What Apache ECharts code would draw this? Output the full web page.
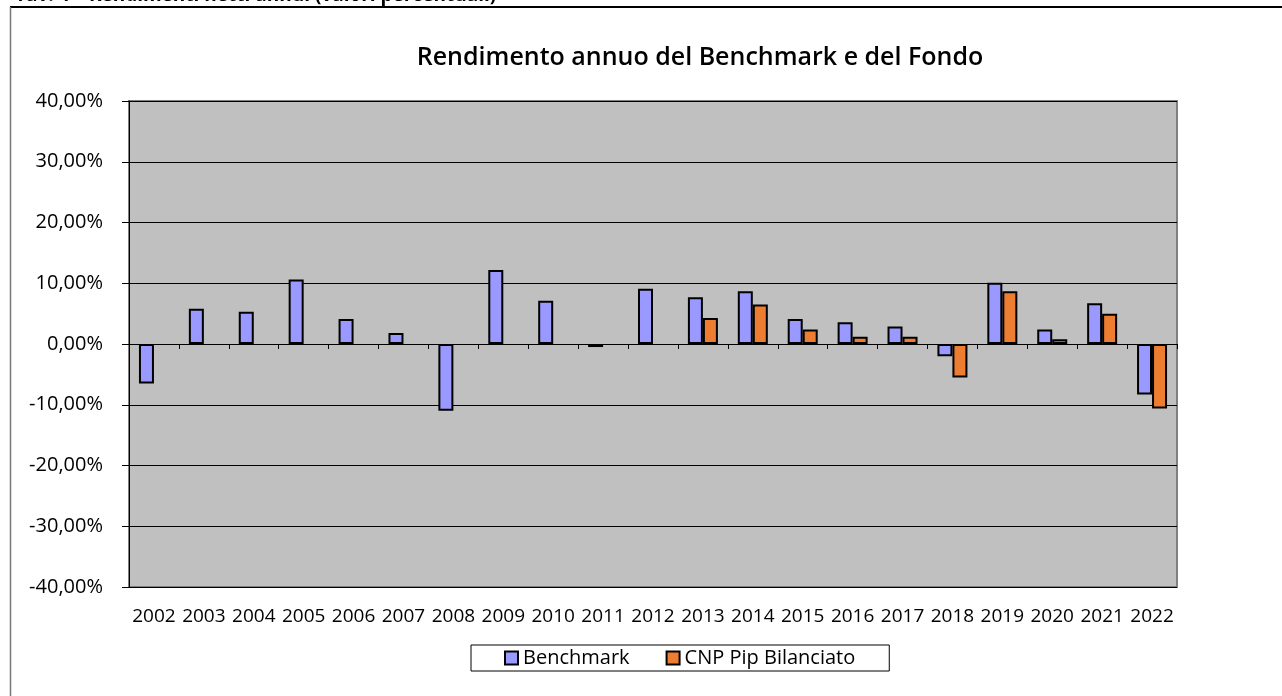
<!DOCTYPE html>
<html>
<head>
<meta charset="utf-8">
<script src="https://cdn.jsdelivr.net/npm/echarts@6/dist/echarts.min.js"></script>
<style>
html,body{margin:0;padding:0;background:#fff;}
#chart{width:1282px;height:696px;}
</style>
</head>
<body>
<div id="chart"></div>
<script>
const years = ['2002','2003','2004','2005','2006','2007','2008','2009','2010','2011','2012','2013','2014','2015','2016','2017','2018','2019','2020','2021','2022'];
const benchmark = [-6.5, 5.8, 5.3, 10.6, 4.1, 1.8, -11.0, 12.2, 7.1, -0.5, 9.1, 7.7, 8.7, 4.1, 3.6, 2.9, -2.0, 10.1, 2.4, 6.7, -8.3];
const fondo = [null, null, null, null, null, null, null, null, null, null, null, 4.3, 6.5, 2.4, 1.2, 1.2, -5.5, 8.7, 0.8, 5.0, -10.6];
const seriesNames = ['Benchmark', 'CNP Pip Bilanciato'];
const chartTitle = 'Rendimento annuo del Benchmark e del Fondo';
const headerText = 'Tav. 4 \u2013 Rendimenti netti annui (valori percentuali)';

const FONT = 'Open Sans';
const chart = echarts.init(document.getElementById('chart'), null, {renderer: 'canvas'});
const fmt = v => v.toFixed(2).replace('.', ',') + '%';

chart.setOption({
  backgroundColor: '#ffffff',
  animation: false,
  textStyle: {fontFamily: FONT, color: '#000'},
  title: {
    text: chartTitle,
    left: 695, top: 40, textAlign: 'center',
    textStyle: {fontFamily: FONT, fontSize: 25, fontWeight: 600, color: '#000'}
  },
  graphic: [
    {type: 'text', left: 15, top: -14, style: {text: headerText, font: 'bold 19px "Open Sans"', fill: '#000'}},
    {type: 'line', shape: {x1: 10, y1: 7, x2: 1282, y2: 7}, style: {stroke: '#000', lineWidth: 2}},
    {type: 'line', shape: {x1: 10.5, y1: 7, x2: 10.5, y2: 696}, style: {stroke: '#777', lineWidth: 1.5}}
  ],
  legend: {
    data: seriesNames,
    left: 471, top: 645,
    backgroundColor: '#fff',
    borderColor: '#000', borderWidth: 1,
    padding: [3, 34, 3, 33],
    itemGap: 36,
    itemWidth: 13, itemHeight: 13,
    icon: 'rect',
    textStyle: {fontFamily: FONT, fontSize: 20, color: '#000'}
  },
  grid: {
    left: 129, right: 105, top: 101, bottom: 109,
    show: true, backgroundColor: '#C0C0C0',
    borderColor: '#808080', borderWidth: 2
  },
  xAxis: [
    {
      type: 'category', data: years,
      axisLine: {onZero: true, lineStyle: {color: '#000', width: 1}},
      axisTick: {show: true, length: 5, lineStyle: {color: '#000'}},
      axisLabel: {show: false},
      splitLine: {show: false}
    },
    {
      type: 'category', data: years, position: 'bottom',
      axisLine: {show: false, onZero: false},
      axisTick: {show: false},
      axisLabel: {show: true, margin: 20, fontFamily: FONT, fontSize: 19, color: '#000', interval: 0},
      splitLine: {show: false}
    }
  ],
  yAxis: {
    type: 'value', min: -40, max: 40, interval: 10,
    axisLine: {show: true, lineStyle: {color: '#000', width: 1}},
    axisTick: {show: true, length: 7, lineStyle: {color: '#000'}},
    axisLabel: {formatter: fmt, fontFamily: FONT, fontSize: 20, color: '#000', margin: 26},
    splitLine: {show: true, lineStyle: {color: '#000', width: 1}}
  },
  series: [
    {
      name: seriesNames[0], type: 'bar', xAxisIndex: 0, data: benchmark,
      barWidth: 15, barGap: '0%',
      itemStyle: {color: '#9999FF', borderColor: '#000', borderWidth: 2}
    },
    {
      name: seriesNames[1], type: 'bar', xAxisIndex: 0, data: fondo,
      barWidth: 15, barGap: '0%',
      itemStyle: {color: '#ED7D31', borderColor: '#000', borderWidth: 2}
    }
  ]
});
</script>
</body>
</html>
